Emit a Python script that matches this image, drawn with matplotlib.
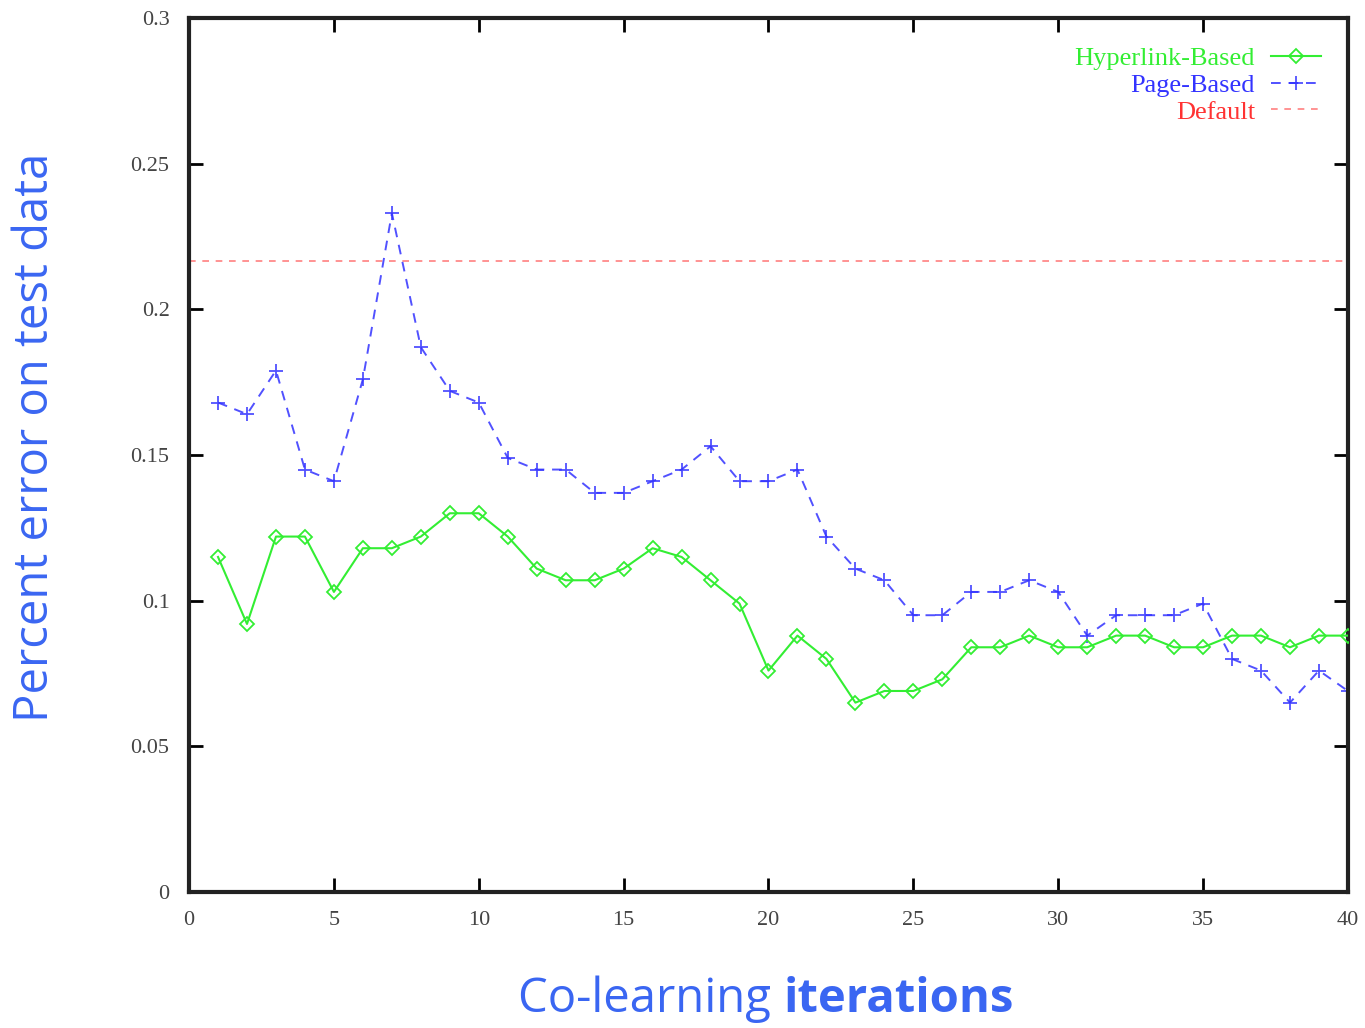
import numpy as np
import matplotlib
matplotlib.use("Agg")
import matplotlib.pyplot as plt
from matplotlib.offsetbox import TextArea, HPacker, AnchoredOffsetbox

iterations = np.arange(1, 41)

hyperlink_based = [0.115, 0.092, 0.122, 0.122, 0.103, 0.118, 0.118, 0.122, 0.130, 0.130,
                   0.122, 0.111, 0.107, 0.107, 0.111, 0.118, 0.115, 0.107, 0.099, 0.076,
                   0.088, 0.080, 0.065, 0.069, 0.069, 0.073, 0.084, 0.084, 0.088, 0.084,
                   0.084, 0.088, 0.088, 0.084, 0.084, 0.088, 0.088, 0.084, 0.088, 0.088]

page_based = [0.168, 0.164, 0.179, 0.145, 0.141, 0.176, 0.233, 0.187, 0.172, 0.168,
              0.149, 0.145, 0.145, 0.137, 0.137, 0.141, 0.145, 0.153, 0.141, 0.141,
              0.145, 0.122, 0.111, 0.107, 0.095, 0.095, 0.103, 0.103, 0.107, 0.103,
              0.088, 0.095, 0.095, 0.095, 0.099, 0.080, 0.076, 0.065, 0.076, 0.069]

default_error = 0.2165

xticks = [0, 5, 10, 15, 20, 25, 30, 35, 40]
yticks = [0, 0.05, 0.1, 0.15, 0.2, 0.25, 0.3]
ytick_labels = ["0", "0.05", "0.1", "0.15", "0.2", "0.25", "0.3"]

label_blue = "#3a66f2"
serif = ["Liberation Serif", "DejaVu Serif"]
sans = ["Open Sans", "DejaVu Sans"]

fig = plt.figure(figsize=(13.65, 10.28), dpi=100)
ax = fig.add_axes([0.1385, 0.1323, 0.849, 0.8502])

ax.axhline(default_error, color="#ff8080", lw=1.2, ls=(0, (4, 4)), label="Default", zorder=1)
ax.plot(iterations, hyperlink_based, color="#33ee33", lw=1.5, marker="D", ms=7,
        mfc="none", mec="#33ee33", mew=1.3, label="Hyperlink-Based", zorder=3)
ax.plot(iterations, page_based, color="#3333ff", lw=1.4, ls=(0, (5, 4)), marker="+",
        ms=10, mew=1.3, alpha=0.85, label="Page-Based", zorder=2)

ax.set_xlim(0, 40)
ax.set_ylim(0, 0.3)
ax.set_xticks(xticks)
ax.set_yticks(yticks)
ax.set_yticklabels(ytick_labels)
ax.tick_params(direction="in", length=10, width=2, top=True, right=True,
               labelsize=16, labelcolor="#444444")
ax.tick_params(axis="x", pad=14)
ax.tick_params(axis="y", pad=14)
for lab in ax.get_xticklabels() + ax.get_yticklabels():
    lab.set_family(serif)
for s in ax.spines.values():
    s.set_linewidth(3)
    s.set_color("#222222")

handles, labels = ax.get_legend_handles_labels()
order = [1, 2, 0]
leg = ax.legend([handles[i] for i in order], [labels[i] for i in order],
                loc="upper right", bbox_to_anchor=(0.986, 0.979), frameon=False,
                markerfirst=False, prop={"family": serif, "size": 19},
                handlelength=1.9, labelspacing=0.12, borderaxespad=0,
                handletextpad=0.6)
for txt, c in zip(leg.get_texts(), ["#33ee33", "#3333ff", "#ff3333"]):
    txt.set_color(c)

ax.set_ylabel("Percent error on test data", family=sans, fontsize=34,
              color=label_blue)
ax.yaxis.set_label_coords(-0.112, 0.52)

parts = HPacker(children=[
    TextArea("Co-learning ", textprops=dict(family=sans, fontsize=34, color=label_blue)),
    TextArea("iterations", textprops=dict(family=sans, fontsize=34, color=label_blue,
                                          weight="bold")),
], align="baseline", pad=0, sep=0)
box = AnchoredOffsetbox(loc="center", child=parts, frameon=False,
                        bbox_to_anchor=(0.561, 0.028), bbox_transform=fig.transFigure,
                        pad=0, borderpad=0)
fig.add_artist(box)

fig.savefig("out.png", dpi=100)
